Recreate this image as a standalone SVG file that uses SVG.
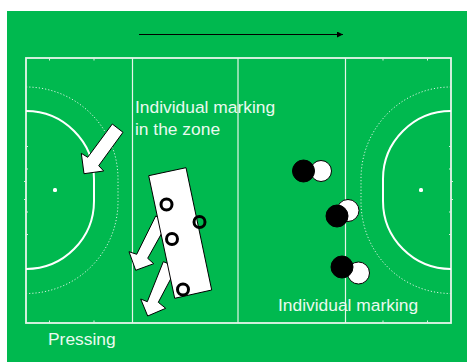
<svg xmlns="http://www.w3.org/2000/svg" width="467" height="362" viewBox="0 0 467 362">
<defs><marker id="ah" markerUnits="userSpaceOnUse" markerWidth="7" markerHeight="6" refX="6" refY="3" orient="auto"><path d="M0 0L6 3L0 6z" fill="#000"/></marker></defs>
<style>
.l{fill:none;stroke:#e6f5ea;stroke-width:1.200}
.e{fill:none;stroke:#e6f5ea;stroke-width:1.800}
.k{fill:none;stroke:#d8f2e0;stroke-width:1}
.d{fill:none;stroke:#fff;stroke-width:2}
.o{fill:none;stroke:#d8f2e0;stroke-width:1;stroke-dasharray:1.200 2}
.t{font:17.400px "Liberation Sans",Arial,sans-serif;fill:#eafaf0}
.a{fill:#fff;stroke:#000;stroke-width:1}
.r{fill:none;stroke:#000;stroke-width:3}
.b{fill:#000;stroke:#000}
.w{fill:#fff;stroke:#000;stroke-width:1}
</style>
<rect width="467" height="362" fill="#fff"/>
<rect x="7" y="11" width="460" height="351" fill="#00b94f"/>
<g id="field">
<rect class="e" x="26" y="58" width="425" height="265"/>
<path class="l" d="M132.500 58V323M238 58V323M345.500 58V323"/>
<path class="k" d="M49.500 58V60.500M94 58V60.500M383 58V60.500M427.500 58V60.500M49.500 323V320.500M94 323V320.500M383 323V320.500M427.500 323V320.500"/>
<path class="k" d="M24 181.500H26M24 199.500H26M451 181.500H453M451 199.500H453M26 146.500H28M26 169H28M26 212H28M26 234.500H28M451 146.500H449M451 169H449M451 212H449M451 234.500H449"/>
<path class="d" d="M26 111C63.500 111 94 141.500 94 179V201C94 238.500 63.500 269 26 269"/>
<path class="d" d="M451 111C413.500 111 383 141.500 383 179V201C383 238.500 413.500 269 451 269"/>
<path class="o" d="M26 87C77 87 118 128 118 179V201.500C118 252.500 77 293.500 26 293.500"/>
<path class="o" d="M451 87C401 87 361 128 361 179V201.500C361 252.500 401 293.500 451 293.500"/>
<rect x="53" y="188" width="4" height="4" rx="1.500" fill="#fff"/>
<rect x="419" y="188" width="4" height="4" rx="1.500" fill="#fff"/>
</g>
<g id="connectors">
<path d="M139 34.500H343" fill="none" stroke="#000" stroke-width="1" marker-end="url(#ah)"/>
<polygon class="a" points="112.300,124 123,132.300 98.700,165.700 103.700,171 84,173.700 81.300,153.300 87.700,157.300"/>
<polygon class="a" points="155.700,216 168,222 147.700,258.300 153.700,263.700 135.700,270.300 129,251.700 136.700,254.300"/>
<polygon class="a" points="163.300,261.700 177,267 158.300,302.300 165.700,308.300 147.700,316 140.700,299 147.300,301.700"/>
</g>
<g id="zone"><polygon class="a" points="148.700,175.700 186,167.700 211.700,290 174.700,298.300"/></g>
<g id="p1"><circle class="r" cx="166.500" cy="204.500" r="5.500"/></g>
<g id="p2"><circle class="r" cx="199.500" cy="222" r="5.500"/></g>
<g id="p3"><circle class="r" cx="172" cy="239" r="5.500"/></g>
<g id="p4"><circle class="r" cx="183" cy="289.500" r="5.500"/></g>
<g id="pair1"><circle class="w" cx="321" cy="171" r="10.500"/><circle class="b" cx="303.500" cy="171" r="11"/></g>
<g id="pair2"><circle class="w" cx="348" cy="210.500" r="11"/><circle class="b" cx="337" cy="216" r="11"/></g>
<g id="pair3"><circle class="w" cx="358.500" cy="273" r="11"/><circle class="b" cx="342" cy="267" r="11"/></g>
<g id="labels">
<text class="t" x="135" y="113">Individual marking</text>
<text class="t" x="135" y="134.500">in the zone</text>
<text class="t" x="278" y="311">Individual marking</text>
<text class="t" x="48" y="345">Pressing</text>
</g>
</svg>
